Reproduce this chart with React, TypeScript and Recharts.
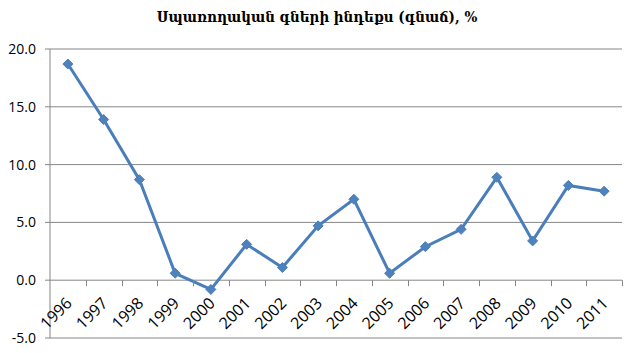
import { CartesianGrid, Line, LineChart, XAxis, YAxis } from "recharts";

const YEARS = [
  "1996", "1997", "1998", "1999", "2000", "2001", "2002", "2003",
  "2004", "2005", "2006", "2007", "2008", "2009", "2010", "2011",
];
const INFLATION = [
  18.7, 13.9, 8.7, 0.6, -0.8, 3.1, 1.1, 4.7,
  7.0, 0.6, 2.9, 4.4, 8.9, 3.4, 8.2, 7.7,
];
const Y_TICKS = [-5, 0, 5, 10, 15, 20];
const TITLE = "Սպառողական գների ինդեքս (գնաճ), %";

const data = YEARS.map((year, i) => ({ year, value: INFLATION[i] }));

const WIDTH = 634;
const HEIGHT = 353;
const MARGIN = { top: 49, right: 12, bottom: 14, left: 0 };
const Y_AXIS_WIDTH = 50;
const X_AXIS_HEIGHT = 1;
const PLOT_W = WIDTH - MARGIN.left - MARGIN.right - Y_AXIS_WIDTH;
const PLOT_H = HEIGHT - MARGIN.top - MARGIN.bottom - X_AXIS_HEIGHT;
const STEP = PLOT_W / YEARS.length;
const Y_MIN = Y_TICKS[0];
const Y_MAX = Y_TICKS[Y_TICKS.length - 1];
// category axis crosses the value axis at 0, like the Excel original
const ZERO_Y = MARGIN.top + ((Y_MAX - 0) / (Y_MAX - Y_MIN)) * PLOT_H;

const GRID = "#868686";
const LINE = "#4A7EBB";
const MARKER = "#4F81BD";
const FONT = "'Open Sans', sans-serif";

const renderYearTick = (props: any) => {
  const { x, payload } = props;
  const ax = x + 5;
  const ay = ZERO_Y + 24;
  const bx = Math.round(x + STEP / 2) + 0.5;
  return (
    <g>
      <path d={`M${bx},${ZERO_Y}V${ZERO_Y + 6}`} stroke={GRID} strokeWidth={1} fill="none" />
      <text
        x={ax}
        y={ay}
        textAnchor="end"
        transform={`rotate(-45, ${ax}, ${ay})`}
        fontSize={16}
        fontFamily={FONT}
        fill="#000"
      >
        {payload.value}
      </text>
    </g>
  );
};

function Diamond(props: any) {
  const { cx, cy } = props;
  if (cx == null || cy == null) return null;
  const r = 5;
  return (
    <polygon
      points={`${cx},${cy - r} ${cx + r},${cy} ${cx},${cy + r} ${cx - r},${cy}`}
      fill={MARKER}
      stroke={LINE}
      strokeWidth={1}
    />
  );
}

export default function App() {
  return (
    <div style={{ position: "absolute", left: 0, top: 0, width: WIDTH, height: HEIGHT, background: "#fff" }}>
      <div
        style={{
          position: "absolute",
          top: 8,
          left: 0,
          width: WIDTH,
          textAlign: "center",
          fontFamily: "'DejaVu Serif Condensed', 'DejaVu Serif', serif",
          fontStretch: "condensed",
          fontWeight: "bold",
          fontSize: 15,
          color: "#000",
        }}
      >
        {TITLE}
      </div>
      <LineChart width={WIDTH} height={HEIGHT} data={data} margin={MARGIN}>
        <CartesianGrid horizontal vertical={false} stroke={GRID} strokeOpacity={1} />
        <XAxis
          dataKey="year"
          height={X_AXIS_HEIGHT}
          axisLine={false}
          tickLine={false}
          interval={0}
          padding={{ left: STEP / 2, right: STEP / 2 }}
          tick={renderYearTick}
        />
        <YAxis
          width={Y_AXIS_WIDTH}
          domain={[Y_MIN, Y_MAX]}
          ticks={Y_TICKS}
          tickFormatter={(v: number) => v.toFixed(1)}
          axisLine={{ stroke: GRID }}
          tickLine={{ stroke: GRID }}
          tickSize={5}
          tickMargin={9}
          tick={{ fontSize: 14, fontFamily: FONT, fill: "#000" }}
        />
        <Line
          type="linear"
          dataKey="value"
          stroke={LINE}
          strokeWidth={3}
          dot={<Diamond />}
          activeDot={false}
          isAnimationActive={false}
        />
      </LineChart>
    </div>
  );
}
